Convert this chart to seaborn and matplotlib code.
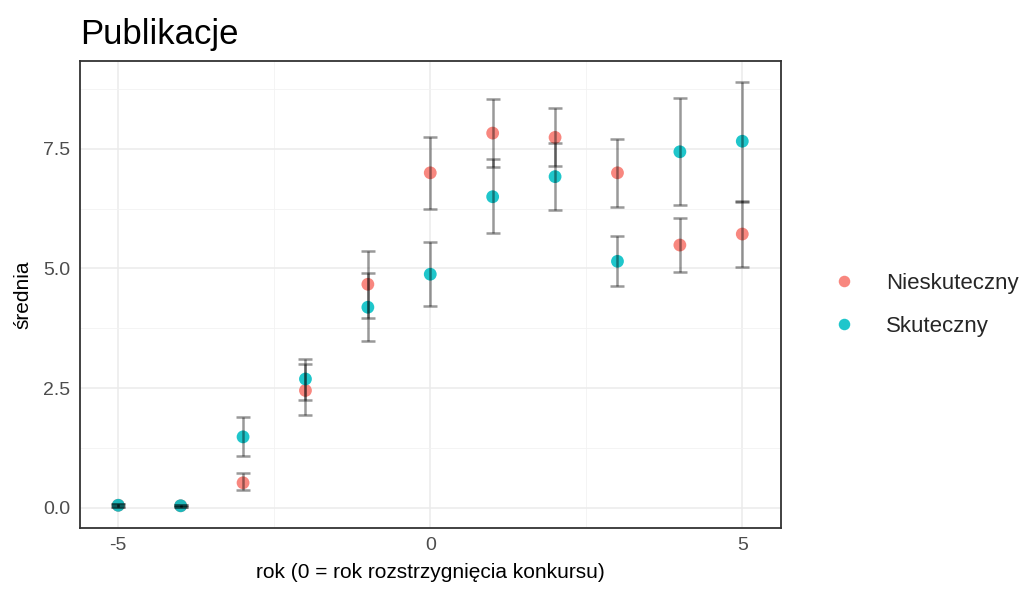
import numpy as np
import pandas as pd
import seaborn as sns
import matplotlib.pyplot as plt
from matplotlib.ticker import MultipleLocator

# values
lata = [-5, -4, -3, -2, -1, 0, 1, 2, 3, 4, 5]

nieskuteczny_sr = [0.05, 0.04, 0.52, 2.45, 4.67, 7.00, 7.83, 7.74, 7.00, 5.49, 5.72]
nieskuteczny_lo = [0.02, 0.02, 0.37, 1.93, 3.97, 6.25, 7.13, 7.14, 6.29, 4.93, 5.03]
nieskuteczny_hi = [0.08, 0.06, 0.72, 3.01, 5.37, 7.74, 8.54, 8.36, 7.70, 6.06, 6.42]

skuteczny_sr = [0.05, 0.04, 1.48, 2.69, 4.19, 4.88, 6.50, 6.92, 5.15, 7.44, 7.66]
skuteczny_lo = [0.02, 0.02, 1.08, 2.26, 3.48, 4.22, 5.75, 6.22, 4.63, 6.32, 6.40]
skuteczny_hi = [0.08, 0.06, 1.89, 3.11, 4.90, 5.56, 7.28, 7.63, 5.67, 8.57, 8.89]

grupy = ['Nieskuteczny', 'Skuteczny']
kolory = {'Nieskuteczny': '#F8766D', 'Skuteczny': '#00BFC4'}

df = pd.DataFrame({
    'rok': lata * 2,
    'srednia': nieskuteczny_sr + skuteczny_sr,
    'lo': nieskuteczny_lo + skuteczny_lo,
    'hi': nieskuteczny_hi + skuteczny_hi,
    'grupa': [grupy[0]] * len(lata) + [grupy[1]] * len(lata),
})

sns.set_theme(style='white')
plt.rcParams['font.family'] = ['Liberation Sans', 'DejaVu Sans']

fig = plt.figure(figsize=(10.28, 5.91), dpi=100)
ax = fig.add_axes([0.078, 0.107, 0.682, 0.79])

sns.scatterplot(data=df, x='rok', y='srednia', hue='grupa', hue_order=grupy,
                palette=kolory, s=85, alpha=0.88, linewidth=0, ax=ax, zorder=3)

# error bars (ggplot geom_errorbar, width 0.2)
for g in grupy:
    d = df[df['grupa'] == g]
    ax.errorbar(d['rok'], d['srednia'],
                yerr=[d['srednia'] - d['lo'], d['hi'] - d['srednia']],
                fmt='none', ecolor='black', alpha=0.4, elinewidth=1.8,
                capsize=4.7, capthick=1.8, zorder=4)

ax.set_xlim(-5.61, 5.625)
ax.set_ylim(-0.42, 9.34)
ax.xaxis.set_minor_locator(MultipleLocator(2.5))
ax.yaxis.set_minor_locator(MultipleLocator(1.25))
ax.set_yticks([0, 2.5, 5, 7.5])
ax.set_yticklabels(['0.0', '2.5', '5.0', '7.5'])
ax.set_xticks([-5, 0, 5])
ax.set_xticklabels(['-5', '0', '5'])

ax.grid(which='major', color='#EBEBEB', linewidth=1.1, zorder=0)
ax.grid(which='minor', color='#F2F2F2', linewidth=0.6, zorder=0)
ax.set_axisbelow(True)
for sp in ax.spines.values():
    sp.set_color('#333333')
    sp.set_linewidth(1.3)

ax.tick_params(axis='both', which='major', length=4, width=1.1, color='#333333',
               labelsize=14, labelcolor='#4D4D4D', direction='out', pad=3)
ax.tick_params(axis='both', which='minor', length=0)

ax.set_xlabel('rok (0 = rok rozstrzygnięcia konkursu)', fontsize=15, color='black', labelpad=6)
ax.set_ylabel('średnia', fontsize=15, color='black', labelpad=8)
ax.set_title('Publikacje', fontsize=25, loc='left', pad=12, color='black')

handles, labels = ax.get_legend_handles_labels()
ax.legend(handles=handles, labels=labels, title=None, frameon=False,
          loc='center left', bbox_to_anchor=(0.78, 0.484),
          bbox_transform=fig.transFigure, fontsize=16, markerscale=0.9,
          handletextpad=0.9, labelspacing=1.0)

fig.savefig('out.png', dpi=100)
